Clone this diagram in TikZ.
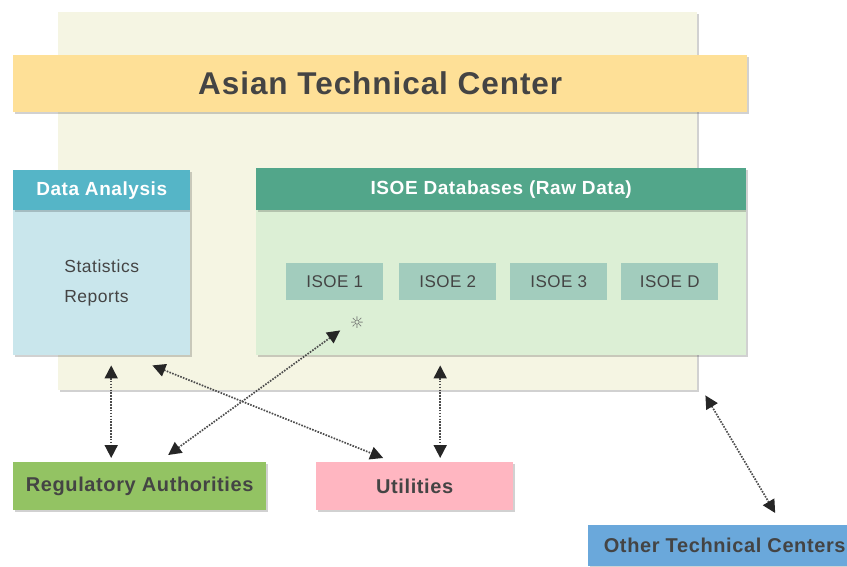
\documentclass[tikz,border=0pt]{standalone}
\usepackage{fontspec}
\setmainfont{Liberation Sans}[LetterSpace=3]
\newfontfamily\symfont{DejaVu Sans}
\usepackage{xcolor}
\usetikzlibrary{arrows.meta,shadows}

\definecolor{bgcream}{HTML}{F5F5E3}
\definecolor{baryellow}{HTML}{FEE097}
\definecolor{dahead}{HTML}{55B5C7}
\definecolor{dabody}{HTML}{C9E6EC}
\definecolor{dbhead}{HTML}{52A68A}
\definecolor{dbbody}{HTML}{DCEFD5}
\definecolor{isoebox}{HTML}{A2CCBD}
\definecolor{reggreen}{HTML}{93C363}
\definecolor{utilpink}{HTML}{FFB6C1}
\definecolor{otcblue}{HTML}{6AA8DB}
\definecolor{txtgray}{HTML}{444444}

\tikzset{
  box/.style={anchor=north west,inner sep=0pt,text=txtgray,
    drop shadow={shadow xshift=1.5pt,shadow yshift=-1.5pt,fill=black,opacity=.18}},
  head/.style={box,text=white,font=\fontsize{19}{21}\selectfont\bfseries},
  party/.style={box,font=\fontsize{20}{22}\selectfont\bfseries},
  tip/.tip={Triangle[color=black!85,length=13pt,width=13pt]},
  link/.style={dash pattern=on 1.6pt off 1.3pt,line width=1.7pt,draw=black!70,tip-tip}
}

\begin{document}
\begin{tikzpicture}[x=1pt,y=-1pt]
\useasboundingbox (0,0) rectangle (847,566);

\node[box,fill=bgcream,minimum width=639pt,minimum height=378pt] (bg) at (58,12) {};
\node[box,fill=baryellow,minimum width=734pt,minimum height=57pt,
  font=\fontsize{31.5}{34}\selectfont\bfseries] (atc) at (13,55) {Asian Technical Center};

% data analysis
\node[box,fill=dabody,minimum width=177pt,minimum height=145pt,align=left,
  font=\fontsize{17.5}{30}\selectfont] (da) at (13,210) {Statistics\\Reports};
\node[head,fill=dahead,minimum width=177pt,minimum height=40pt] (dahd) at (13,170) {Data Analysis};

% databases
\node[box,fill=dbbody,minimum width=490pt,minimum height=145pt] (db) at (256,210) {};
\node[head,fill=dbhead,minimum width=490pt,minimum height=42pt] (dbhd) at (256,168) {ISOE Databases (Raw Data)};
\foreach \n/\x/\t in {1/286/ISOE 1,2/399/ISOE 2,3/510/ISOE 3,4/621/ISOE D}
  \node[anchor=north west,inner sep=0pt,fill=isoebox,text=txtgray,
    minimum width=97pt,minimum height=37pt,font=\fontsize{17}{19}\selectfont] (isoe\n) at (\x,263) {\t};
\node[text=black!60,font=\symfont\fontsize{16}{16}\selectfont,inner sep=0pt] (spark) at (357,323) {☼};

% parties
\node[party,fill=reggreen,minimum width=253pt,minimum height=48pt] (reg) at (13,462) {Regulatory Authorities};
\node[party,fill=utilpink,minimum width=197pt,minimum height=48pt] (util) at (316,462) {Utilities};
\node[party,fill=otcblue,minimum width=259pt,minimum height=41pt] (otc) at (588,525) {\hspace*{14pt}Other Technical Centers};

% links
\draw[link] ([xshift=9.5pt,yshift=-10pt]da.south) -- ([xshift=-28.5pt,yshift=4pt]reg.north);
\draw[link] ([xshift=-38pt,yshift=-10pt]da.south east) -- ([xshift=-31.5pt,yshift=4pt]util.north);
\draw[link] ([xshift=28.5pt,yshift=7pt]reg.north) -- ([xshift=5.5pt,yshift=-30pt]isoe1.south);
\draw[link] ([xshift=-61pt,yshift=-10pt]db.south) -- ([xshift=25.5pt,yshift=4pt]util.north);
\draw[link] ([xshift=8pt,yshift=-5pt]bg.south east) -- ([xshift=57.5pt,yshift=12pt]otc.north);
\end{tikzpicture}
\end{document}
